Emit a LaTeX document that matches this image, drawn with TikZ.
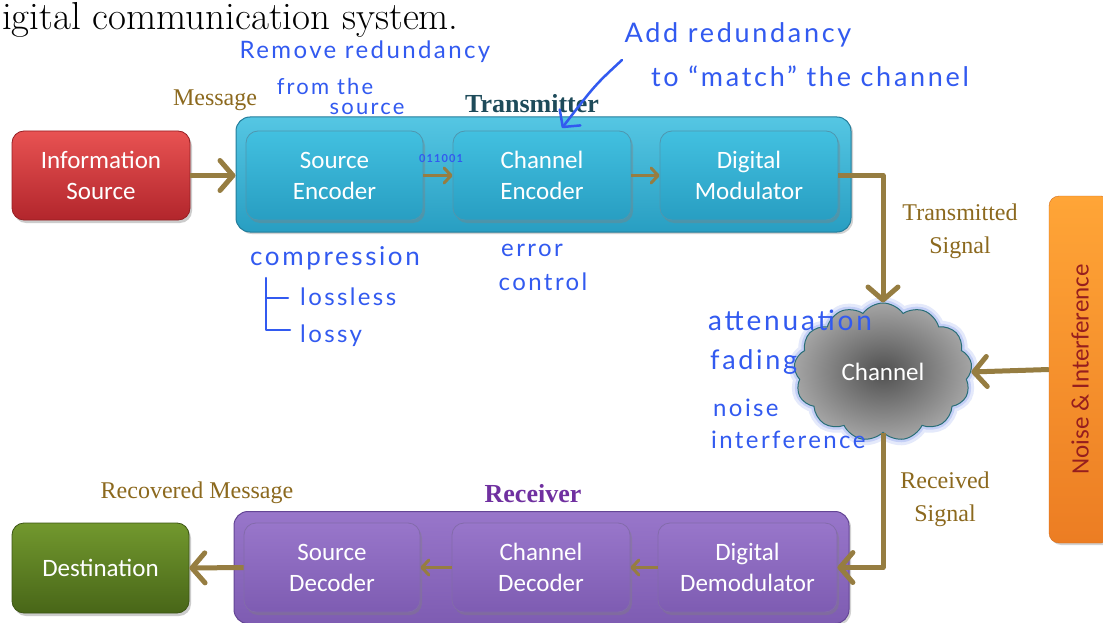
\documentclass[tikz,border=0pt]{standalone}
\usepackage{fontspec}
\newfontfamily\boxfont{Carlito}
\newfontfamily\labfont{Liberation Serif}
\newfontfamily\hand[LetterSpace=10]{Lato}
\usetikzlibrary{shapes.symbols,shadows,arrows.meta}
\definecolor{arrowc}{RGB}{150,125,65}
\definecolor{labc}{RGB}{140,105,30}
\definecolor{handc}{RGB}{50,90,240}
\definecolor{txtop}{RGB}{66,192,224}
\definecolor{txbot}{RGB}{40,158,194}
\definecolor{txdraw}{RGB}{35,125,155}
\definecolor{rxtop}{RGB}{152,118,202}
\definecolor{rxbot}{RGB}{126,92,178}
\definecolor{rxdraw}{RGB}{100,70,150}
\definecolor{tealtxt}{RGB}{30,75,90}
\definecolor{purptxt}{RGB}{112,48,160}
\definecolor{noisetxt}{RGB}{150,30,30}
\tikzset{
  outerbox/.style={rounded corners=14pt, line width=1pt, inner sep=0pt, drop shadow={shadow xshift=2pt,shadow yshift=-2pt,opacity=0.35}},
  innerbox/.style={rounded corners=12pt, line width=0.8pt, inner sep=0pt, minimum height=89pt,
     text=white, font=\boxfont\fontsize{25}{31}\selectfont, align=center,
     drop shadow={shadow xshift=2pt,shadow yshift=-3pt,opacity=0.4}},
  txin/.style={innerbox, top color=txtop, bottom color=txbot, draw=txdraw!80},
  rxin/.style={innerbox, top color=rxtop, bottom color=rxbot, draw=rxdraw!80},
  bigarrow/.style={draw=arrowc, line width=5pt, -{Straight Barb[length=13pt,width=30pt,round]}},
  smallarrow/.style={draw=arrowc, line width=3pt, -{Straight Barb[length=7pt,width=15pt,round]}},
  lab/.style={text=labc, font=\labfont\fontsize{24}{33}\selectfont, align=center, inner sep=0pt},
  handtxt/.style={text=handc, font=\hand\fontsize{24}{26}\selectfont, inner sep=0pt},
  handline/.style={draw=handc, line width=2.5pt, line cap=round, line join=round}
}
\begin{document}
\begin{tikzpicture}[x=1pt,y=-1pt]
\useasboundingbox (0,0) rectangle (1103,623);
\clip (0,0) rectangle (1103,623);
\fill[white] (0,0) rectangle (1103,623);

% title fragment
\node[anchor=base west, inner sep=0pt, font=\fontsize{39}{44}\selectfont] (title) at (2,30) {igital communication system.};

% transmitter
\node[outerbox, top color=txtop!90, bottom color=txbot, draw=txdraw, minimum width=615pt, minimum height=115pt] (tx) at (543.5,174.5) {};
\node[font=\labfont\bfseries\fontsize{26}{28}\selectfont, text=tealtxt, inner sep=0pt] (txlab) at (532,104) {Transmitter};
\node[txin, minimum width=177pt] (senc) at (334.5,175.5) {Source\\Encoder};
\node[txin, minimum width=178pt] (cenc) at (542,175.5) {Channel\\Encoder};
\node[txin, minimum width=178pt] (mod) at (749,175.5) {Digital\\Modulator};

% information source
\node[innerbox, top color={rgb,255:red,232;green,82;blue,82}, bottom color={rgb,255:red,178;green,38;blue,44}, draw={rgb,255:red,150;green,30;blue,35}, minimum width=178pt] (info) at (101,175.5) {Information\\Source};
\node[lab] (msg) at (215,100) {Message};

% receiver
\node[outerbox, top color=rxtop, bottom color=rxbot, draw=rxdraw, minimum width=615pt, minimum height=112pt] (rx) at (541.5,567.5) {};
\node[font=\labfont\bfseries\fontsize{26}{28}\selectfont, text=purptxt, inner sep=0pt] (rxlab) at (533,494) {Receiver};
\node[rxin, minimum width=176pt] (sdec) at (332,567.5) {Source\\Decoder};
\node[rxin, minimum width=178pt] (cdec) at (541,567.5) {Channel\\Decoder};
\node[rxin, minimum width=179pt] (demod) at (747.5,567.5) {Digital\\Demodulator};

% destination
\node[innerbox, top color={rgb,255:red,114;green,152;blue,46}, bottom color={rgb,255:red,72;green,102;blue,24}, draw={rgb,255:red,60;green,85;blue,20}, minimum width=177pt, minimum height=90pt] (dest) at (100.5,568) {Destination};
\node[lab] (recmsg) at (197,493) {Recovered Message};

% noise box
\node[rounded corners=10pt, rotate=90, top color={rgb,255:red,255;green,165;blue,55}, bottom color={rgb,255:red,236;green,125;blue,35}, draw={rgb,255:red,210;green,110;blue,30}, minimum width=347pt, minimum height=62pt, inner sep=0pt, text=noisetxt, font=\boxfont\fontsize{25}{28}\selectfont, drop shadow={shadow xshift=2pt,shadow yshift=-2pt,opacity=0.35}] (noise) at (1080,369.5) {Noise \& Interference};

% channel cloud
\node[cloud, cloud puffs=13, cloud puff arc=110, cloud ignores aspect, minimum width=178pt, minimum height=138pt, inner sep=0pt,
  preaction={draw={rgb,255:red,150;green,170;blue,240}, line width=12pt, opacity=0.25},
  preaction={draw={rgb,255:red,150;green,170;blue,240}, line width=6pt, opacity=0.4},
  shading=radial, inner color={rgb,255:red,80;green,80;blue,80}, outer color={rgb,255:red,165;green,165;blue,165},
  draw={rgb,255:red,40;green,110;blue,120}, line width=1pt,
  text=white, font=\boxfont\fontsize{25}{28}\selectfont] (chan) at (883,372) {Channel};

\node[lab] (txsig) at (960,231) {Transmitted\\Signal};
\node[lab] (rxsig) at (945,499) {Received\\Signal};

% connectors
\draw[bigarrow] (info.east) -- (tx.west |- info.east);
\draw[smallarrow] (senc.east) -- (cenc.west);
\draw[smallarrow] (cenc.east) -- (mod.west);
\draw[bigarrow, line join=round] (mod.east) -| (chan.north);
\draw[bigarrow] (noise.north) -- (chan.east);
\draw[bigarrow, line join=round] (chan.south) |- (demod.east);
\draw[smallarrow] (demod.west) -- (cdec.east);
\draw[smallarrow] (cdec.west) -- (sdec.east);
\draw[bigarrow] (sdec.west) -- (dest.east);

% handwritten annotations
\node[handtxt] (h1) at (365,52) {Remove redundancy};
\node[handtxt, font=\hand\fontsize{22}{24}\selectfont] (h2) at (325,86) {from the};
\node[handtxt, font=\hand\fontsize{22}{24}\selectfont] (h3) at (367,109) {source};
\node[handtxt, font=\hand\fontsize{27}{29}\selectfont] (h4) at (738,35) {Add redundancy};
\node[handtxt, font=\hand\fontsize{27}{29}\selectfont] (h5) at (810,76) {to “match” the channel};
\coordinate (ha) at (622,60);
\coordinate (hb) at (562,128);
\draw[handline, -{Straight Barb[length=12pt,width=26pt,round]}] (ha) .. controls (595,85) .. (hb);
\node[handtxt, font=\hand\bfseries\fontsize{11}{12}\selectfont] (bits) at (441,159) {011001};
\node[handtxt, font=\hand\fontsize{26}{28}\selectfont] (h6) at (335,258) {compression};
\node[handtxt, anchor=west] (h7) at (300,297) {lossless};
\node[handtxt, anchor=west] (h8) at (300,336) {lossy};
\coordinate (t0) at (266,278);
\coordinate (t1) at (266,330);
\coordinate (t2) at (290,330);
\coordinate (t3) at (266,298);
\coordinate (t4) at (288,298);
\draw[handline] (t0) -- (t1) -- (t2);
\draw[handline] (t3) -- (t4);
\node[handtxt] (h9) at (532,250) {error};
\node[handtxt] (h10) at (543,282) {control};
\node[handtxt, anchor=west, font=\hand\fontsize{28}{30}\selectfont] (h11) at (708,320) {attenuation};
\node[handtxt, anchor=west, font=\hand\fontsize{27}{30}\selectfont] (h12) at (710,362) {fading};
\node[handtxt, anchor=west] (h13) at (713,408) {noise};
\node[handtxt, anchor=west] (h14) at (711,440) {interference};
\end{tikzpicture}
\end{document}
